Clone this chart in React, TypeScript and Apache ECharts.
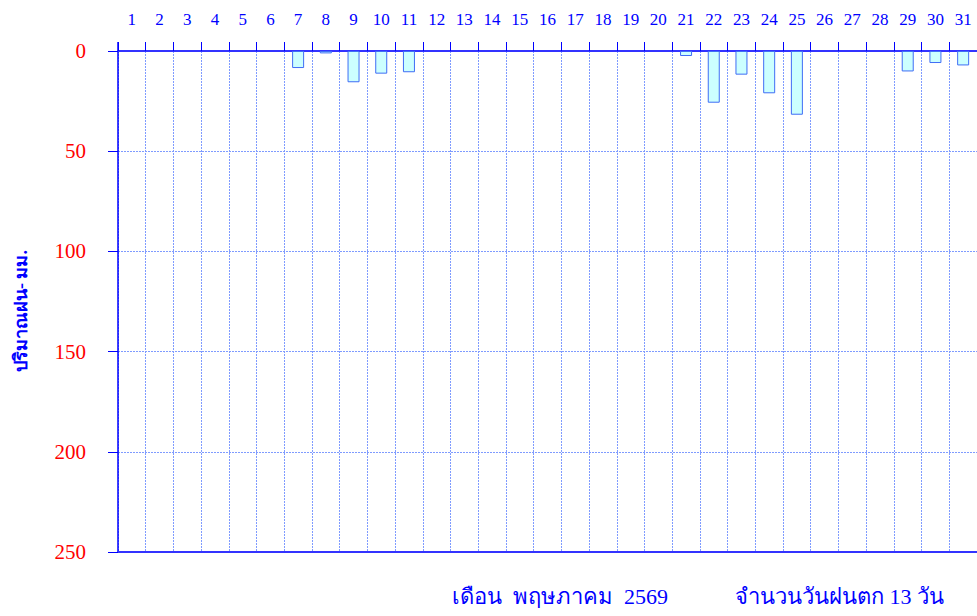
import React, { useEffect, useRef } from "react";
import * as echarts from "echarts";

const days: string[] = Array.from({ length: 31 }, (_, i) => String(i + 1));
const rainfall: (number | null)[] = [
  null, null, null, null, null, null, 8.5, 1.2, 15.6, 11.3, 10.6,
  null, null, null, null, null, null, null, null, null, 2.5, 25.8,
  11.8, 21.1, 31.8, null, null, null, 10.2, 6, 7.2,
];
const yTicks = { min: 0, max: 250, interval: 50 };
const yTitle = "ปริมาณฝน- มม.";
const monthText = "เดือน  พฤษภาคม  2569";
const rainDaysText = "จำนวนวันฝนตก 13 วัน";

const SERIF = "Liberation Serif";

export default function App() {
  const ref = useRef<HTMLDivElement>(null);
  useEffect(() => {
    if (!ref.current) return;
    const chart = echarts.init(ref.current, undefined, { renderer: "svg" });
    chart.setOption({
      animation: false,
      backgroundColor: "#ffffff",
      grid: { left: 118, top: 51, bottom: 64, right: -5, containLabel: false },
      xAxis: [
        {
          type: "category",
          data: days,
          position: "top",
          boundaryGap: true,
          axisLine: { show: true, onZero: false, lineStyle: { color: "#3333ff", width: 2 } },
          axisTick: { show: true, length: 9, lineStyle: { color: "#0000ff", width: 1 } },
          axisLabel: { color: "#0000ff", fontSize: 17, fontFamily: SERIF, margin: 23, interval: 0 },
          splitLine: { show: true, interval: 0, lineStyle: { color: "#7f9bff", type: [2, 1], width: 1 } },
        },
        {
          type: "category",
          data: days,
          position: "bottom",
          axisLine: { show: true, onZero: false, lineStyle: { color: "#3333ff", width: 2 } },
          axisTick: { show: false },
          axisLabel: { show: false },
          splitLine: { show: false },
        },
      ],
      yAxis: {
        type: "value",
        inverse: true,
        min: yTicks.min,
        max: yTicks.max,
        interval: yTicks.interval,
        axisLine: { show: true, lineStyle: { color: "#0000ff", width: 1.5 } },
        axisTick: { show: true, length: 10, lineStyle: { color: "#0000ff", width: 1 } },
        axisLabel: { color: "#ff0000", fontSize: 21, fontFamily: SERIF, margin: 32 },
        splitLine: { show: true, lineStyle: { color: "#7f9bff", type: [2, 1], width: 1 } },
      },
      series: [
        {
          type: "bar",
          data: rainfall,
          xAxisIndex: 0,
          barWidth: 12,
          itemStyle: { color: "#ccffff", borderColor: "#3f6df5", borderWidth: 1 },
        },
      ],
      graphic: [
        {
          type: "line",
          shape: { x1: 118, y1: 42, x2: 118, y2: 51 },
          style: { stroke: "#0000ff", lineWidth: 1.5 },
        },
        {
          type: "text",
          x: 21,
          y: 311,
          rotation: Math.PI / 2,
          style: {
            text: yTitle,
            fill: "#0000ff",
            font: "bold 18px " + SERIF,
            textAlign: "center",
            textVerticalAlign: "middle",
          },
        },
        {
          type: "text",
          x: 452,
          y: 596,
          style: {
            text: monthText,
            fill: "#0000ff",
            font: "22px " + SERIF,
            textAlign: "left",
            textVerticalAlign: "middle",
          },
        },
        {
          type: "text",
          x: 735,
          y: 596,
          style: {
            text: rainDaysText,
            fill: "#0000ff",
            font: "22px " + SERIF,
            textAlign: "left",
            textVerticalAlign: "middle",
          },
        },
      ],
    });
    return () => chart.dispose();
  }, []);
  return (
    <div
      ref={ref}
      style={{ position: "absolute", left: 0, top: 0, width: 977, height: 616 }}
    />
  );
}
